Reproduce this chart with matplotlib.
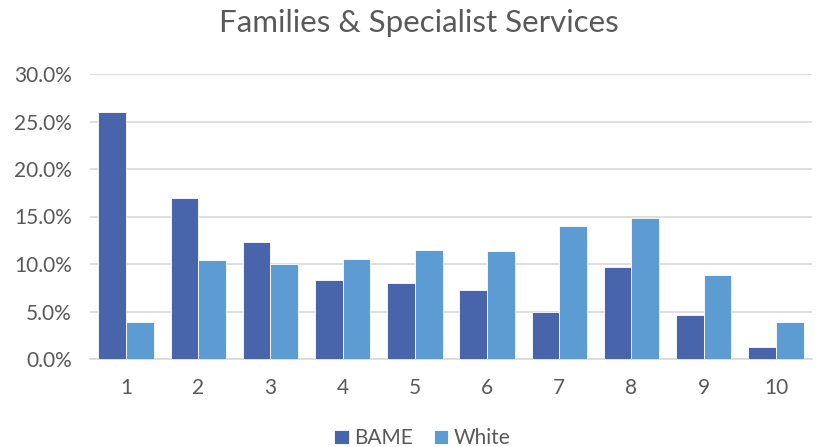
import numpy as np
import matplotlib.pyplot as plt
from matplotlib.ticker import PercentFormatter

plt.rcParams['font.family'] = ['Lato', 'DejaVu Sans']

# values (percent)
categories = ["1", "2", "3", "4", "5", "6", "7", "8", "9", "10"]
bame = [26.0, 17.0, 12.3, 8.3, 8.0, 7.3, 5.0, 9.7, 4.6, 1.3]
white = [3.9, 10.4, 10.0, 10.5, 11.5, 11.4, 14.0, 14.8, 8.8, 3.9]

x = np.arange(len(categories))
w = 0.385

fig = plt.figure(figsize=(8.2, 4.47), dpi=100)
ax = fig.add_axes([90 / 820, 1 - 359 / 447, 722 / 820, 285 / 447])

ax.bar(x - w / 2, bame, w, color="#4864AB", edgecolor="white", linewidth=0.6, label="BAME", zorder=3)
ax.bar(x + w / 2, white, w, color="#5D9BD3", edgecolor="white", linewidth=0.6, label="White", zorder=3)

ax.set_xlim(-0.5, len(categories) - 0.5)
ax.set_ylim(0, 30)
ax.set_yticks(np.arange(0, 31, 5))
ax.yaxis.set_major_formatter(PercentFormatter(decimals=1))
ax.set_xticks(x)
ax.set_xticklabels(categories)
ax.grid(axis="y", color="#D9D9D9", linewidth=1.2, zorder=0)
for s in ["top", "right", "left"]:
    ax.spines[s].set_visible(False)
ax.spines["bottom"].set_color("#D9D9D9")
ax.spines["bottom"].set_linewidth(1.2)
ax.tick_params(length=0, labelsize=15, colors="#595959")
ax.tick_params(axis="x", pad=14)
ax.tick_params(axis="y", pad=13)

fig.suptitle("Families & Specialist Services", x=0.511, y=0.98, fontsize=22.5, color="#595959")
fig.legend(loc="lower center", bbox_to_anchor=(0.515, -0.045), ncol=2, frameon=False,
           fontsize=15, handlelength=0.7, handleheight=0.7, handletextpad=0.25,
           columnspacing=1.0, labelcolor="#595959")

fig.savefig("out.png", dpi=100)
